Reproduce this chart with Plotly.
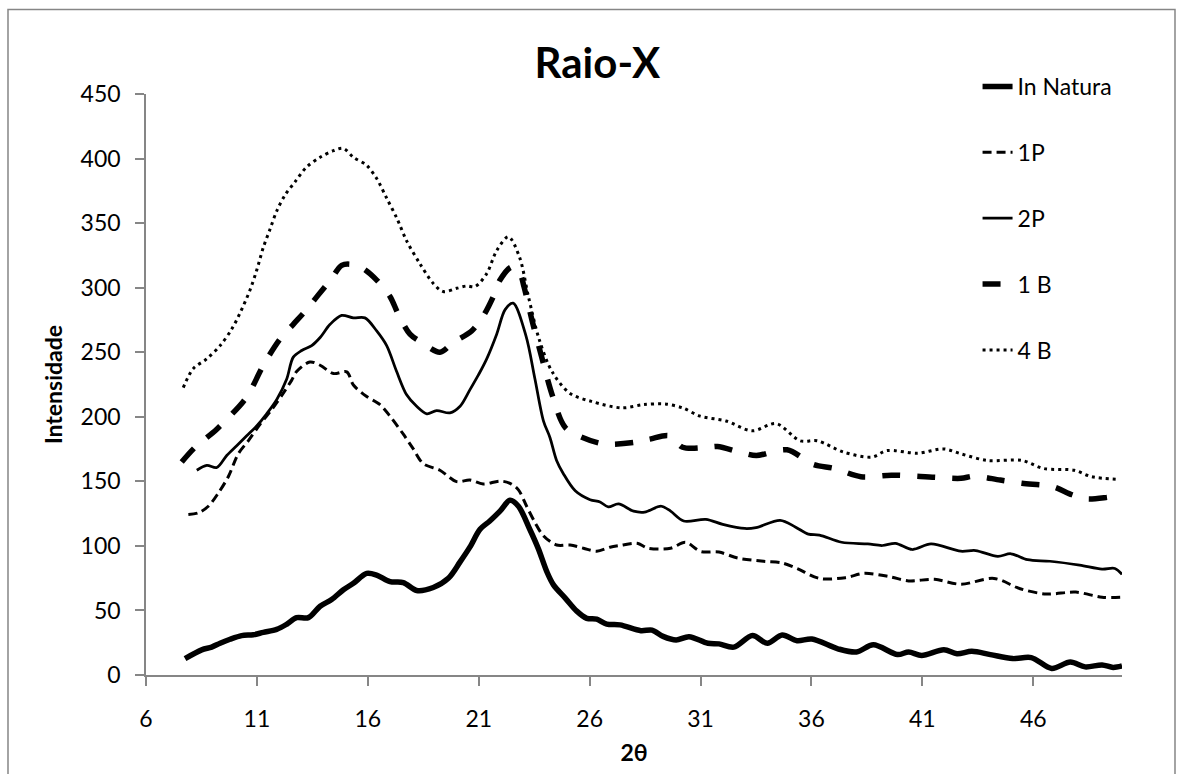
import plotly.graph_objects as go

# X-ray diffraction intensity versus 2θ for each sample
natura_x = [7.76, 8.51, 8.96, 9.34, 9.79, 10.31, 10.84, 11.29, 11.89, 12.34, 12.79, 13.32, 13.85, 14.37,
            14.9, 15.35, 15.95, 16.4, 17.0, 17.6, 18.2, 18.95, 19.63, 20.16, 20.6, 21.06, 21.5, 21.96,
            22.41, 22.79, 23.3, 23.69, 24.07, 24.37, 24.9, 25.42, 25.87, 26.32, 26.77, 27.37, 28.31,
            28.81, 29.31, 29.9, 30.48, 31.33, 31.83, 32.5, 33.34, 34.01, 34.68, 35.35, 36.02, 37.19,
            38.03, 38.79, 39.88, 40.38, 40.97, 41.97, 42.56, 43.23, 44.07, 45.07, 45.91, 46.83, 47.67,
            48.34, 49.1, 49.6, 50.0]
natura_y = [12.7, 19.5, 21.6, 24.6, 27.7, 30.5, 31.2, 33.0, 35.3, 39.3, 44.4, 44.4, 53.3, 58.4,
            66.0, 71.0, 78.7, 77.4, 72.3, 71.6, 65.5, 67.8, 74.9, 87.6, 99.0, 112.9, 119.3, 126.9,
            135.3, 130.7, 112.9, 97.7, 80.0, 69.8, 59.6, 49.5, 43.9, 43.2, 39.4, 38.8, 34.3,
            34.8, 29.9, 27.1, 29.7, 24.6, 24.1, 21.6, 30.5, 24.6, 31.0, 26.6, 27.9, 20.3,
            17.8, 23.4, 15.8, 17.8, 15.2, 19.6, 16.5, 18.3, 15.8, 12.7, 13.5, 5.1, 10.1,
            6.3, 7.8, 5.9, 7.1]

p1_x = [7.91, 8.36, 8.81, 9.26, 9.71, 10.16, 10.61, 11.14, 11.67, 12.19, 12.57, 12.79, 13.39, 13.85,
        14.45, 15.05, 15.35, 15.95, 16.55, 17.0, 17.6, 18.05, 18.5, 19.25, 20.0, 20.6, 21.2, 21.96,
        22.41, 22.79, 23.16, 23.54, 23.91, 24.51, 25.12, 25.72, 26.32, 26.92, 27.37, 28.14, 28.64,
        29.65, 30.32, 31.0, 31.83, 32.67, 33.84, 34.68, 35.35, 36.36, 37.53, 38.37, 39.54, 40.38,
        41.55, 42.73, 44.23, 45.41, 46.58, 47.92, 49.1, 50.0]
p1_y = [124.3, 125.6, 130.7, 140.9, 153.6, 171.3, 181.4, 194.2, 205.6, 218.3, 228.4, 235.0, 242.4, 239.9,
        233.5, 234.8, 224.6, 215.7, 209.4, 200.5, 186.5, 175.1, 163.7, 158.6, 149.8, 151.0, 147.9, 150.2,
        148.5, 143.4, 130.7, 118.0, 107.9, 100.7, 100.7, 98.2, 95.9, 99.0, 100.3, 102.0, 98.2,
        98.2, 102.8, 95.7, 95.2, 90.6, 88.1, 86.8, 82.5, 74.8, 75.4, 78.7, 76.1, 72.9,
        74.1, 70.3, 74.8, 66.8, 62.7, 64.2, 60.2, 60.2]

p2_x = [8.29, 8.74, 9.19, 9.64, 10.09, 10.54, 10.99, 11.44, 11.89, 12.34, 12.64, 13.02, 13.47, 13.85,
        14.3, 14.82, 15.35, 15.87, 16.4, 16.85, 17.3, 17.75, 18.2, 18.66, 19.1, 19.7, 20.16, 20.6,
        20.98, 21.36, 21.81, 22.19, 22.55, 23.13, 23.53, 23.92, 24.21, 24.51, 24.81, 25.35, 26.02,
        26.47, 26.84, 27.3, 27.98, 28.48, 29.23, 29.65, 30.24, 31.24, 32.0, 33.0, 33.5, 34.59,
        35.27, 35.86, 36.36, 37.36, 38.54, 39.2, 39.79, 40.55, 41.39, 42.73, 43.4, 44.4, 44.99,
        45.74, 46.75, 48.09, 49.1, 49.68, 50.0]
p2_y = [158.6, 162.4, 160.7, 170.0, 177.6, 185.3, 192.9, 202.3, 213.2, 229.0, 246.2, 251.3, 255.1, 261.4,
        271.6, 278.5, 276.6, 276.6, 266.5, 255.1, 235.0, 217.0, 208.1, 202.3, 204.8, 203.0, 208.1, 220.8,
        232.2, 244.9, 264.0, 283.0, 288.0, 262.7, 229.7, 196.7, 184.0, 166.2, 156.1, 142.7, 135.8,
        134.0, 130.2, 132.5, 126.9, 126.2, 130.7, 126.9, 119.3, 120.5, 116.7, 113.5, 114.2, 119.8,
        114.7, 109.1, 108.4, 102.8, 101.5, 100.3, 102.0, 97.2, 101.5, 95.9, 96.4, 91.9, 93.9,
        89.3, 88.1, 85.1, 82.0, 82.5, 77.9]

b1_x = [7.61, 8.21, 9.19, 10.39, 10.69, 11.29, 12.04, 12.64, 13.24, 13.77, 14.37, 14.82, 15.3, 15.8,
        16.4, 17.0, 17.38, 17.9, 18.43, 19.25, 19.85, 20.68, 21.2, 21.66, 21.96, 22.49, 22.86, 23.04,
        23.43, 23.82, 24.31, 24.9, 25.68, 26.66, 28.04, 28.72, 29.6, 30.19, 31.37, 31.76, 32.94,
        33.52, 34.9, 36.07, 37.05, 38.23, 39.6, 41.56, 42.74, 43.33, 44.51, 45.49, 46.86, 47.75,
        48.43, 49.43, 50.0]
b1_y = [165.0, 176.4, 190.4, 211.9, 219.5, 239.9, 260.2, 271.6, 283.0, 294.4, 307.1, 317.3, 318.0, 314.7,
        305.9, 293.2, 279.2, 264.0, 257.6, 250.0, 257.6, 266.5, 277.9, 293.2, 305.9, 316.0, 310.9, 300.8,
        272.8, 247.5, 217.0, 191.7, 184.0, 178.9, 180.2, 182.7, 185.3, 176.4, 176.4, 176.9, 171.8,
        170.0, 174.4, 163.2, 159.9, 153.6, 154.8, 153.1, 152.3, 154.0, 151.0, 148.5, 146.0, 139.6,
        136.3, 137.8, 139.0]

b4_x = [7.68, 8.13, 8.74, 9.34, 9.86, 10.24, 10.69, 10.99, 11.29, 11.59, 11.89, 12.27, 12.72, 13.24,
        13.85, 14.45, 14.9, 15.35, 15.95, 16.4, 16.85, 17.3, 17.75, 18.35, 18.95, 19.4, 20.0, 20.46,
        20.83, 21.36, 21.81, 22.34, 22.84, 23.24, 23.72, 24.31, 25.1, 26.08, 27.45, 28.43, 29.41,
        30.19, 30.98, 32.15, 33.33, 34.41, 35.49, 36.27, 37.45, 38.72, 39.41, 40.78, 41.96, 42.74,
        43.92, 45.49, 46.47, 47.84, 48.63, 49.9]
b4_y = [222.6, 237.3, 244.9, 255.1, 267.8, 280.4, 298.2, 313.5, 331.2, 345.2, 359.2, 371.8, 382.0, 393.4,
        401.0, 406.1, 407.9, 401.0, 394.7, 384.5, 369.3, 354.1, 336.3, 318.5, 303.3, 297.0, 299.5, 301.3,
        300.8, 310.9, 328.7, 339.4, 323.6, 293.2, 260.2, 234.8, 218.3, 211.9, 206.9, 209.4, 209.9,
        206.9, 200.5, 196.7, 189.1, 194.7, 181.4, 181.4, 172.6, 168.8, 173.8, 171.8, 175.1, 171.3,
        166.2, 166.2, 159.9, 158.6, 153.6, 151.5]

series_names = ["In Natura", "1P", "2P", "1 B", "4 B"]
series_x = [natura_x, p1_x, p2_x, b1_x, b4_x]
series_y = [natura_y, p1_y, p2_y, b1_y, b4_y]

x_range = [6, 50]
y_range = [0, 450]

FONT = "Lato"
AXIS_GREY = "#868686"

line_styles = [
    dict(width=5.5, dash="solid"),
    dict(width=3, dash="9px,5px"),
    dict(width=2.75, dash="solid"),
    dict(width=5.5, dash="18px,17px"),
    dict(width=3, dash="3px,4px"),
]

fig = go.Figure()
for i, (name, xs, ys, st) in enumerate(zip(series_names, series_x, series_y, line_styles)):
    fig.add_trace(go.Scatter(
        x=xs, y=ys, name=name, mode="lines",
        line=dict(color="black", width=st["width"], dash=st["dash"], shape="spline", smoothing=0.9),
        legendgroup=f"g{i}",
    ))

axis_common = dict(
    showgrid=False, zeroline=False,
    showline=True, linecolor=AXIS_GREY, linewidth=1.5,
    ticks="outside", ticklen=9, tickwidth=1.5, tickcolor=AXIS_GREY,
    tickfont=dict(family=FONT, size=23, color="black"),
)

fig.update_layout(
    width=1183, height=774,
    margin=dict(l=146, r=61, t=94, b=89),
    paper_bgcolor="white", plot_bgcolor="white",
    font=dict(family=FONT, color="black"),
    title=dict(
        text="Raio-X", x=0.505, xref="container", xanchor="center",
        y=1 - 63 / 774, yref="container", yanchor="middle",
        font=dict(family=FONT, size=42, weight="bold", color="black"),
    ),
    xaxis=dict(
        range=x_range, tick0=6, dtick=5, ticklabelstandoff=14,
        title=dict(text="2θ", standoff=14, font=dict(family=FONT, size=23, weight="bold")),
        **axis_common,
    ),
    yaxis=dict(
        range=y_range, tick0=0, dtick=50, ticklabelstandoff=10,
        title=dict(text="Intensidade", standoff=12, font=dict(family=FONT, size=23, weight="bold")),
        **axis_common,
    ),
    legend=dict(
        x=0.852, xanchor="left", y=1.05, yanchor="top",
        font=dict(family=FONT, size=23, color="black"),
        bgcolor="rgba(0,0,0,0)", tracegroupgap=33, traceorder="grouped",
    ),
    showlegend=True,
    shapes=[dict(
        type="rect", xref="paper", yref="paper",
        x0=-0.1414, x1=1.0543, y0=-0.2, y1=1.1455,
        line=dict(color=AXIS_GREY, width=1.5), fillcolor="rgba(0,0,0,0)", layer="below",
    )],
)

fig.write_html("out.html")
